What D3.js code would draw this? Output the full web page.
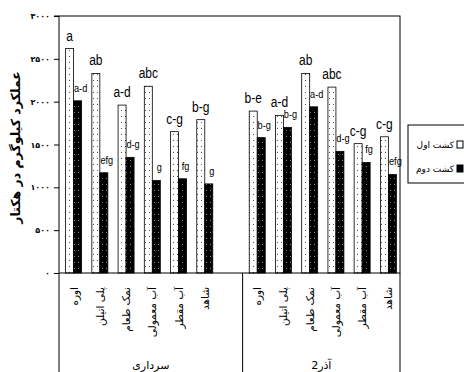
<!DOCTYPE html>
<html>
<head>
  <meta charset="UTF-8">
  <script src="https://d3js.org/d3.v7.min.js"></script>
  <style>
    body { margin: 0; background: #fff; }
    svg { display: block; }
  </style>
</head>
<body>
  <script>
    // data
    var treatments = ["اوره", "پلی اتیلن", "نمک طعام", "آب معمولی", "آب مقطر", "شاهد"];
    var cultivars = ["سرداری", "آذر2"];
    var seriesNames = ["کشت اول", "کشت دوم"];

    var sardariFirst = [2620, 2330, 1960, 2180, 1650, 1790];
    var sardariSecond = [2010, 1170, 1350, 1080, 1100, 1040];
    var azarFirst = [1890, 1840, 2330, 2170, 1510, 1590];
    var azarSecond = [1580, 1700, 1940, 1420, 1290, 1150];

    var sardariFirstLetters = ["a", "ab", "a-d", "abc", "c-g", "b-g"];
    var sardariSecondLetters = ["a-d", "efg", "d-g", "g", "fg", "g"];
    var azarFirstLetters = ["b-e", "a-d", "ab", "abc", "c-g", "c-g"];
    var azarSecondLetters = ["b-g", "b-g", "a-d", "d-g", "fg", "efg"];

    var yTicks = [0, 500, 1000, 1500, 2000, 2500, 3000];

    // plot box ("top" is taken by window.top, so use other names)
    var width = 464, height = 372;
    var plotL = 59, plotR = 400, plotT = 16, plotB = 273;

    var svg = d3.select("body").append("svg")
      .attr("width", width)
      .attr("height", height);

    // patterns for the two sowings
    var defs = svg.append("defs");
    var p1 = defs.append("pattern").attr("id", "dotsWhite")
      .attr("patternUnits", "userSpaceOnUse").attr("width", 4).attr("height", 6);
    p1.append("rect").attr("width", 4).attr("height", 6).attr("fill", "#fff");
    p1.append("rect").attr("x", 1).attr("y", 2).attr("width", 1).attr("height", 1).attr("fill", "#555");
    var p2 = defs.append("pattern").attr("id", "dotsBlack")
      .attr("patternUnits", "userSpaceOnUse").attr("width", 4).attr("height", 6);
    p2.append("rect").attr("width", 4).attr("height", 6).attr("fill", "#000");
    p2.append("rect").attr("x", 2).attr("y", 4).attr("width", 1).attr("height", 1).attr("fill", "#888");

    // 13 slots: 6 treatments + one empty slot for سرداری, then 6 for آذر2
    var slots = [];
    treatments.forEach(function(t) { slots.push("0|" + t); });
    slots.push("0|");
    treatments.forEach(function(t) { slots.push("1|" + t); });

    var x = d3.scaleBand().domain(slots).range([plotL, plotR]);
    var y = d3.scaleLinear().domain([0, 3000]).range([plotB, plotT]);
    var pair = d3.scaleBand().domain([0, 1]).range([0, 16]);

    var rows = [];
    treatments.forEach(function(t, i) {
      rows.push({ slot: "0|" + t, s: 0, v: sardariFirst[i], lab: sardariFirstLetters[i] });
      rows.push({ slot: "0|" + t, s: 1, v: sardariSecond[i], lab: sardariSecondLetters[i] });
      rows.push({ slot: "1|" + t, s: 0, v: azarFirst[i], lab: azarFirstLetters[i] });
      rows.push({ slot: "1|" + t, s: 1, v: azarSecond[i], lab: azarSecondLetters[i] });
    });

    var off = (x.bandwidth() - 16) / 2 + 1.5;

    // y axis ticks in Persian digits
    var fa = "۰۱۲۳۴۵۶۷۸۹";
    function toFa(n) {
      return String(n).replace(/\d/g, function(d) { return fa[+d]; });
    }
    var yAxis = svg.append("g")
      .attr("transform", "translate(" + plotL + ",0)")
      .call(d3.axisLeft(y).tickValues(yTicks).tickSize(5).tickPadding(4).tickFormat(toFa));
    yAxis.select(".domain").remove();
    yAxis.selectAll("line").attr("stroke", "#000");
    yAxis.selectAll("text")
      .attr("font-family", "DejaVu Sans")
      .attr("font-weight", "bold")
      .attr("font-size", 8)
      .attr("fill", "#000");

    // bars
    svg.selectAll("rect.bar").data(rows).enter().append("rect")
      .attr("class", "bar")
      .attr("x", function(d) { return x(d.slot) + off + pair(d.s); })
      .attr("y", function(d) { return y(d.v); })
      .attr("width", pair.bandwidth())
      .attr("height", function(d) { return y(0) - y(d.v); })
      .attr("fill", function(d) { return d.s === 0 ? "url(#dotsWhite)" : "url(#dotsBlack)"; })
      .attr("stroke", "#000")
      .attr("stroke-width", 0.8);

    // letters of mean comparison, squeezed to look like a narrow face
    svg.selectAll("text.lab").data(rows).enter().append("text")
      .attr("class", "lab")
      .attr("transform", function(d) {
        var lx = x(d.slot) + off + pair(d.s) + pair.bandwidth() / 2 + (d.s === 0 ? 0 : 3);
        var ly = y(d.v) - (d.s === 0 ? 8 : 9);
        return "translate(" + lx + "," + ly + ") scale(0.8,1)";
      })
      .attr("text-anchor", "middle")
      .attr("font-family", "'Liberation Sans'")
      .attr("font-size", function(d) { return d.s === 0 ? 15 : 11.5; })
      .attr("fill", "#000")
      .text(function(d) { return d.lab; });

    // plot frame
    svg.append("rect")
      .attr("x", plotL).attr("y", plotT)
      .attr("width", plotR - plotL).attr("height", plotB - plotT)
      .attr("fill", "none").attr("stroke", "#000").attr("stroke-width", 1);
    svg.append("line")
      .attr("x1", plotL - 5).attr("x2", plotL)
      .attr("y1", plotT).attr("y2", plotT).attr("stroke", "#000");

    // category area below the axis
    var split = x("1|" + treatments[0]);
    [plotL, split, plotR].forEach(function(xx) {
      svg.append("line")
        .attr("x1", xx).attr("x2", xx)
        .attr("y1", plotB).attr("y2", height)
        .attr("stroke", "#000");
    });

    var catLabels = svg.append("g");
    slots.forEach(function(s) {
      var t = s.split("|")[1];
      if (!t) return;
      var cx = x(s) + off + 8;
      catLabels.append("text")
        .attr("transform", "translate(" + (cx + 4) + "," + (plotB + 14) + ") rotate(-90)")
        .attr("text-anchor", "end")
        .attr("font-family", "DejaVu Sans")
        .attr("font-size", 10.5)
        .attr("fill", "#000")
        .text(t);
    });

    // cultivar labels
    cultivars.forEach(function(c, i) {
      var a = i === 0 ? plotL : split;
      var b = i === 0 ? split : plotR;
      svg.append("text")
        .attr("x", (a + b) / 2)
        .attr("y", 369)
        .attr("text-anchor", "middle")
        .attr("font-family", "DejaVu Sans")
        .attr("font-size", 11)
        .attr("fill", "#000")
        .text(c);
    });

    // y axis title
    svg.append("text")
      .attr("transform", "translate(20," + ((plotT + plotB) / 2 + 3) + ") rotate(-90)")
      .attr("text-anchor", "middle")
      .attr("font-family", "DejaVu Sans")
      .attr("font-weight", "bold")
      .attr("font-size", 12.5)
      .attr("fill", "#000")
      .text("عملکرد کیلوگرم در هکتار");

    // legend
    var legend = svg.append("g");
    legend.append("rect")
      .attr("x", 408).attr("y", 125)
      .attr("width", 70).attr("height", 58)
      .attr("fill", "#fff").attr("stroke", "#000");
    seriesNames.forEach(function(n, i) {
      var ly = 145 + i * 24;
      legend.append("rect")
        .attr("x", 457).attr("y", ly - 4)
        .attr("width", 6).attr("height", 7)
        .attr("fill", i === 0 ? "#fff" : "#000")
        .attr("stroke", "#000");
      legend.append("text")
        .attr("x", 454).attr("y", ly + 3)
        .attr("text-anchor", "end")
        .attr("font-family", "DejaVu Sans")
        .attr("font-size", 9)
        .attr("fill", "#000")
        .text(n);
    });
  </script>
</body>
</html>
